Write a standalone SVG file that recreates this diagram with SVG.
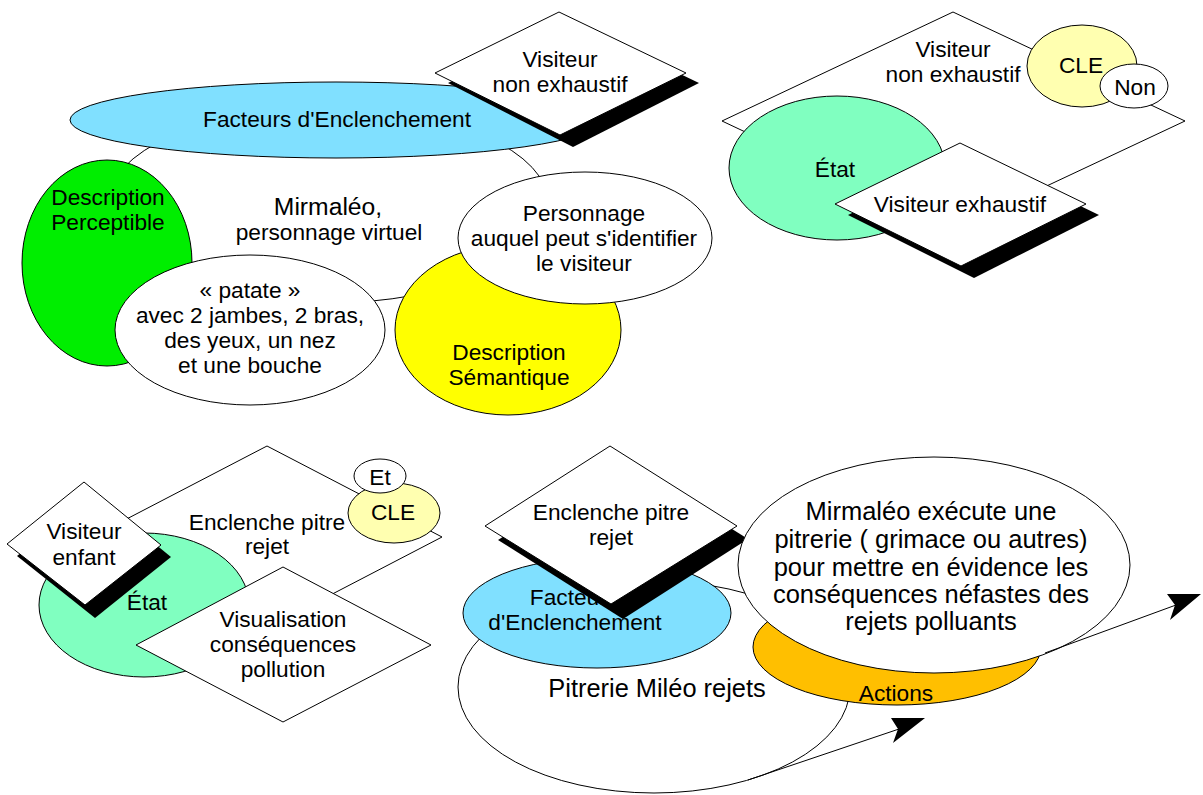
<svg xmlns="http://www.w3.org/2000/svg" width="1203" height="795" viewBox="0 0 1203 795">
<style>
.s{stroke:#000;stroke-width:1}
.w{fill:#fff}
.blue{fill:#80e0ff}
.green{fill:#00ee00}
.yel{fill:#ffff00}
.lyel{fill:#ffffb0}
.mint{fill:#80ffc0}
.orange{fill:#ffbf00}
.sh{fill:#000;stroke:none}
text{font-family:"Liberation Sans",Arial,sans-serif;font-size:22.7px;text-anchor:middle;fill:#000}
.big{font-size:25.5px}
.mid{font-size:24.7px}
.pit{font-size:25.4px}
.conn{stroke:#000;stroke-width:1;fill:none}
</style>
<rect width="1203" height="795" fill="#fff"/>

<!-- TOP LEFT -->
<g id="mirmaleo">
<ellipse class="s w" cx="328" cy="205" rx="221" ry="98"/>
<text class="mid" x="328" y="215">Mirmaléo,</text>
<text x="329" y="240">personnage virtuel</text>
</g>
<g id="facteurs1">
<ellipse class="s blue" cx="336" cy="120" rx="266" ry="38"/>
<text x="337" y="127">Facteurs d'Enclenchement</text>
</g>
<g id="visiteur-non-exh1">
<polygon class="sh" points="572,22 699,83 573,147 448,83"/>
<polygon class="s w" points="559,12 686,73 560,135 435,73"/>
<text x="560" y="67">Visiteur</text>
<text x="560" y="92">non exhaustif</text>
</g>
<g id="desc-perceptible">
<ellipse class="s green" cx="107" cy="263" rx="85" ry="103"/>
<text x="108" y="205">Description</text>
<text x="108" y="230">Perceptible</text>
</g>
<g id="patate">
<ellipse class="s w" cx="250" cy="330" rx="135" ry="75"/>
<text x="250" y="298">« patate »</text>
<text x="250" y="323">avec 2 jambes, 2 bras,</text>
<text x="250" y="348">des yeux, un nez</text>
<text x="250" y="373">et une bouche</text>
</g>
<g id="desc-semantique">
<ellipse class="s yel" cx="508" cy="330" rx="113" ry="85"/>
<text x="509" y="360">Description</text>
<text x="509" y="385">Sémantique</text>
</g>
<g id="personnage">
<ellipse class="s w" cx="585" cy="238" rx="127" ry="66"/>
<text x="584" y="221">Personnage</text>
<text x="584" y="246">auquel peut s'identifier</text>
<text x="584" y="271">le visiteur</text>
</g>

<!-- TOP RIGHT -->
<g id="visiteur-non-exh2">
<polygon class="s w" points="953,12 1185,121 953,230 722,121"/>
<text x="953" y="57">Visiteur</text>
<text x="953" y="82">non exhaustif</text>
</g>
<g id="cle1">
<ellipse class="s lyel" cx="1082" cy="66" rx="55" ry="41"/>
<text x="1081" y="73">CLE</text>
</g>
<g id="non">
<ellipse class="s w" cx="1134" cy="86" rx="34" ry="22"/>
<text x="1135" y="95">Non</text>
</g>
<g id="etat1">
<ellipse class="s mint" cx="837" cy="168" rx="108" ry="72"/>
<text x="835" y="177">État</text>
</g>
<g id="visiteur-exh">
<polygon class="sh" points="973,154 1099,215 974,278 848,215"/>
<polygon class="s w" points="960,143 1086,204 961,266 835,204"/>
<text x="960" y="212">Visiteur exhaustif</text>
</g>

<!-- BOTTOM LEFT -->
<g id="enclenche1">
<polygon class="s w" points="267,446 442,537 267,628 92,537"/>
<text x="267" y="530">Enclenche pitre</text>
<text x="267" y="554">rejet</text>
</g>
<g id="cle2">
<ellipse class="s lyel" cx="394" cy="513" rx="46" ry="30"/>
<text x="393" y="520">CLE</text>
</g>
<g id="et">
<ellipse class="s w" cx="380" cy="476" rx="26" ry="17"/>
<text x="380" y="485">Et</text>
</g>
<g id="etat2">
<ellipse class="s mint" cx="144" cy="605" rx="105" ry="72"/>
<text x="147" y="610">État</text>
</g>
<g id="visiteur-enfant">
<polygon class="sh" points="94,494 171,557 95,618 17,556"/>
<polygon class="s w" points="84,482 161,545 85,605 7,544"/>
<text x="84" y="539">Visiteur</text>
<text x="84" y="565">enfant</text>
</g>
<g id="visualisation">
<polygon class="s w" points="283,567 431,645 283,722 136,645"/>
<text x="283" y="627">Visualisation</text>
<text x="283" y="652">conséquences</text>
<text x="283" y="677">pollution</text>
</g>

<!-- BOTTOM RIGHT -->
<g id="pitrerie">
<ellipse class="s w" cx="654" cy="687" rx="196" ry="106"/>
<text class="pit" x="657" y="697">Pitrerie Miléo rejets</text>
</g>
<g id="facteurs2">
<ellipse class="s blue" cx="597" cy="613" rx="134" ry="55"/>
<text x="574" y="605">Facteurs</text>
<text x="575" y="630">d'Enclenchement</text>
</g>
<g id="enclenche2">
<polygon class="sh" points="622,460 748,539 623,619 498,540"/>
<polygon class="s w" points="610,446 737,526 611,604 485,526"/>
<text x="611" y="520">Enclenche pitre</text>
<text x="611" y="545">rejet</text>
</g>
<g id="actions">
<ellipse class="s orange" cx="897" cy="647" rx="144" ry="58"/>
<text x="896" y="701">Actions</text>
</g>
<g id="mirmaleo-execute">
<ellipse class="s w" cx="934" cy="565" rx="196" ry="108"/>
<text class="big" x="931" y="520">Mirmaléo exécute une</text>
<text class="big" x="931" y="548">pitrerie ( grimace ou autres)</text>
<text class="big" x="931" y="576">pour mettre en évidence les</text>
<text class="big" x="931" y="603">conséquences néfastes des</text>
<text class="big" x="931" y="630">rejets polluants</text>
</g>

<g id="connectors">
<line class="conn" x1="748" y1="780" x2="899" y2="729"/>
<polygon fill="#000" points="925,718 891,718 898,729 893,743"/>
<line class="conn" x1="1045" y1="653" x2="1176" y2="605"/>
<polygon fill="#000" points="1201,594 1167,594 1175,605 1170,620"/>
</g>
</svg>
